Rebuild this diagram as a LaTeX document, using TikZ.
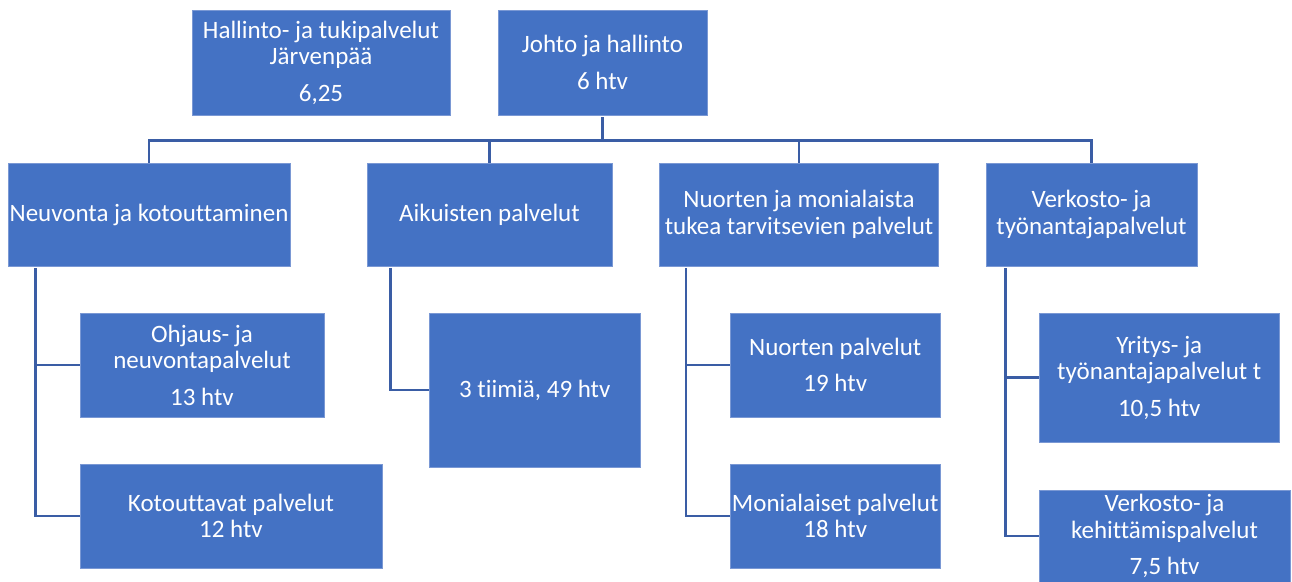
\documentclass[tikz,border=0pt]{standalone}
\usepackage{fontspec}
\setmainfont{Carlito}[Ligatures=NoCommon]
\usepackage{tikz}
\usetikzlibrary{positioning}
\definecolor{unitblue}{HTML}{4472C4}
\definecolor{unitedge}{HTML}{7A98D4}
\definecolor{linkblue}{HTML}{3A5DA5}
\tikzset{unit/.style = {fill = unitblue, draw = unitedge, line width = 0.8pt, text = white,
    inner sep = 0, align = center, font = \fontsize{25}{26.5}\selectfont},
  link/.style = {draw = linkblue, line width = 2.6pt}}

\begin{document}
\begin{tikzpicture}[x=1pt, y=-1pt]
      \useasboundingbox (0, 0) rectangle (1292, 581);
      % top row
      \node [unit, minimum width = 258, minimum height = 105] (hall) at (321, 62.5)
        {Hallinto- ja tukipalvelut\\Järvenpää\\[10pt]6,25};
      \node [unit, minimum width = 209, minimum height = 105] (johto) at (602.5, 62.5)
        {Johto ja hallinto\\[10pt]6 htv};
      % second row
      \node [unit, minimum width = 282, minimum height = 103] (neuv) at (149, 214.5)
        {Neuvonta ja kotouttaminen};
      \node [unit, minimum width = 245, minimum height = 103] (aik) at (489.5, 214.5)
        {Aikuisten palvelut};
      \node [unit, minimum width = 279.5, minimum height = 103] (nuo) at (799, 214.5)
        {Nuorten ja monialaista\\tukea tarvitsevien palvelut};
      \node [unit, minimum width = 211, minimum height = 103] (verk) at (1091.5, 214.5)
        {Verkosto- ja\\työnantajapalvelut};
      % third row
      \node [unit, minimum width = 244, minimum height = 104] (ohj) at (202, 365)
        {Ohjaus- ja\\neuvontapalvelut\\[10pt]13 htv};
      \node [unit, minimum width = 302, minimum height = 104] (kot) at (231, 516)
        {Kotouttavat palvelut\\12 htv};
      \node [unit, minimum width = 210.5, minimum height = 154] (tiimi) at (534.75, 390)
        {3 tiimiä, 49 htv};
      \node [unit, minimum width = 210.5, minimum height = 104] (npalv) at (835.25, 365)
        {Nuorten palvelut\\[10pt]19 htv};
      \node [unit, minimum width = 210.5, minimum height = 104] (mon) at (835.25, 516)
        {Monialaiset palvelut\\18 htv};
      \node [unit, minimum width = 240.5, minimum height = 129] (yri) at (1159.25, 377.5)
        {Yritys- ja\\työnantajapalvelut t\\[10pt]10,5 htv};
      \node [unit, minimum width = 251, minimum height = 92] (keh) at (1164.5, 536)
        {Verkosto- ja\\kehittämispalvelut\\[10pt]7,5 htv};
      % connectors
      \foreach \n in {neuv, aik, nuo, verk} {
        \draw [link] ([yshift=-2]johto.south) -- ++(0, 23) -| (\n.north);
      }
      \draw [link] ([xshift=28, yshift=-2]neuv.south west) |- (ohj.west);
      \draw [link] ([xshift=28, yshift=-2]neuv.south west) |- (kot.west);
      \draw [link] ([xshift=24, yshift=-2]aik.south west) |- (tiimi.west);
      \draw [link] ([xshift=27, yshift=-2]nuo.south west) |- (npalv.west);
      \draw [link] ([xshift=27, yshift=-2]nuo.south west) |- (mon.west);
      \draw [link] ([xshift=20, yshift=-2]verk.south west) |- (yri.west);
      \draw [link] ([xshift=20, yshift=-2]verk.south west) |- (keh.west);
    \end{tikzpicture}
\end{document}
